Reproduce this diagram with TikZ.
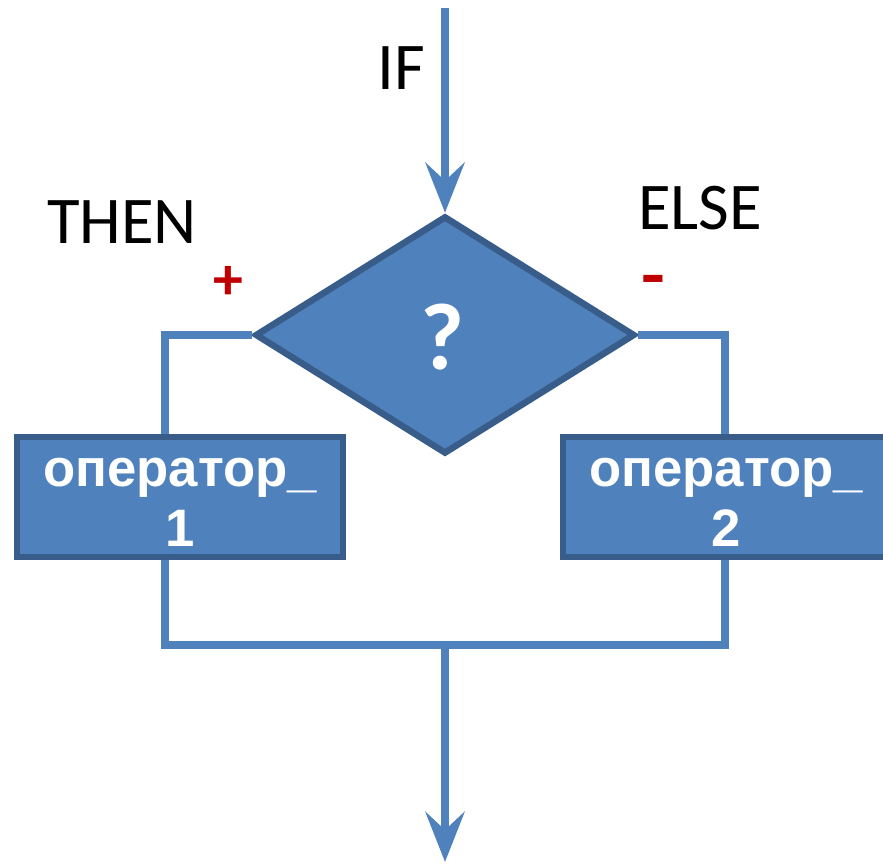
\documentclass[tikz,border=0pt]{standalone}
\usepackage{fontspec}
\setmainfont{Carlito}
\newfontfamily\boxfont{Liberation Sans}
\usetikzlibrary{shapes.geometric,arrows.meta}

\definecolor{blockfill}{HTML}{4F81BD}
\definecolor{blockline}{HTML}{385D8A}
\definecolor{signred}{HTML}{C00000}

\tikzset{
  block/.style={draw=blockline, fill=blockfill, line width=0.11cm, inner sep=0pt,
    minimum width=6.52cm, minimum height=2.4cm, text=white, align=center,
    font=\boxfont\bfseries\fontsize{30}{34}\selectfont},
  flow/.style={draw=blockfill, line width=0.17cm},
  flowarrow/.style={flow, -{Stealth[length=1cm, width=0.78cm, inset=0.36cm]}},
  caption/.style={font=\fontsize{38}{40}\selectfont},
  sign/.style={text=signred, font=\bfseries\fontsize{34}{36}\selectfont}
}

\begin{document}
\begin{tikzpicture}[x=0.02cm, y=-0.02cm]
      % размеры рисунка
      \useasboundingbox (0,0) rectangle (883,864);

      % условие
      \node[diamond, draw=blockline, fill=blockfill, line width=0.13cm, inner sep=0pt,
        minimum width=7.6cm, minimum height=4.76cm, aspect=1.6] (cond) at (445,335) {};
      \node[text=white, font=\bfseries\fontsize{54}{56}\selectfont] (mark) at (442,337) {?};

      % операторы
      \node[block] (op1) at (180,497) {\rule{0pt}{22pt}оператор\_\\1};
      \node[block] (op2) at (726,497) {\rule{0pt}{22pt}оператор\_\\2};

      % точки поворота линий
      \coordinate (left) at (165,335);
      \coordinate (right) at (725,335);
      \coordinate (join) at (445,645);
      \coordinate (start) at (445,8);
      \coordinate (finish) at (445,862);

      % вход
      \draw[flowarrow] (start) -- (cond.north);

      % ветви
      \draw[flow] (cond.west) -- (left) -- (left |- op1.north);
      \draw[flow] (cond.east) -- (right) -- (right |- op2.north);

      % слияние и выход
      \draw[flow] (left |- op1.south) -- (left |- join) -- (right |- join) -- (right |- op2.south);
      \draw[flowarrow] (join) -- (finish);

      % подписи
      \node[caption] (lif) at (401,68) {IF};
      \node[caption] (lthen) at (122,222) {THEN};
      \node[caption] (lelse) at (700,208) {ELSE};
      \node[sign] (plus) at (228,283) {+};
      \node[sign] (minus) at (653,287) {\scalebox{1.3}[1.15]{-}};
\end{tikzpicture}
\end{document}
